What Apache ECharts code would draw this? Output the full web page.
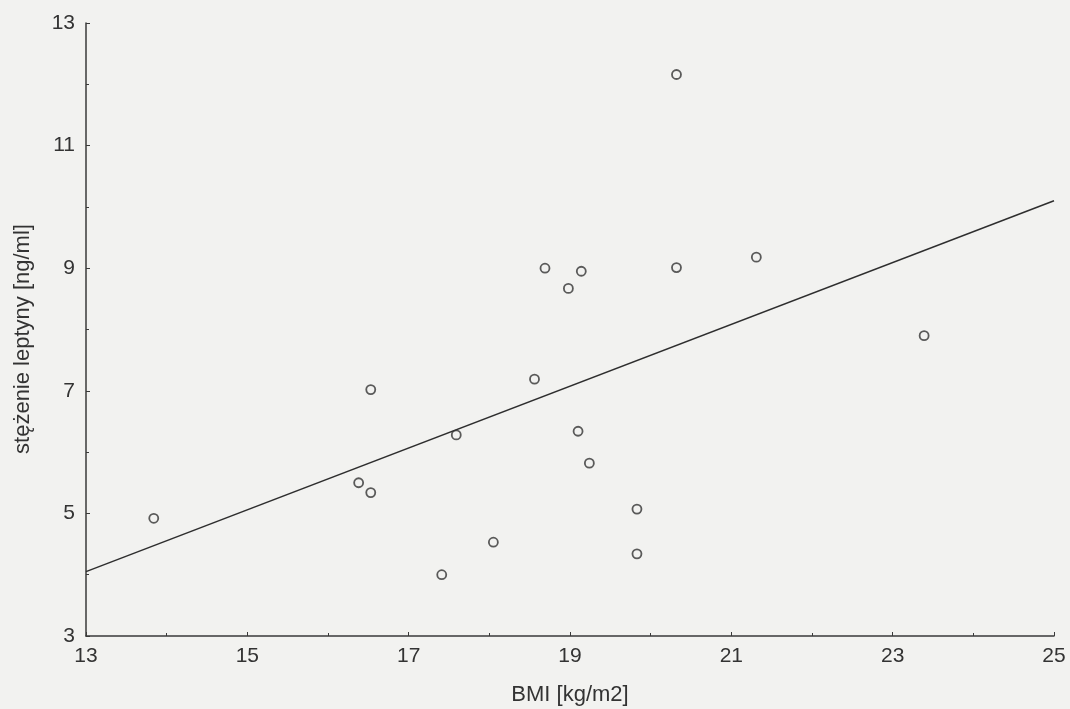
<!DOCTYPE html>
<html>
<head>
<meta charset="utf-8">
<script src="https://cdn.jsdelivr.net/npm/echarts@6/dist/echarts.min.js"></script>
<style>
html,body{margin:0;padding:0;background:#f2f2f0;}
#c{width:1070px;height:709px;}
</style>
</head>
<body>
<div id="c"></div>
<script>
const bmi = [13.84, 16.38, 16.53, 16.53, 17.41, 17.59, 18.05, 18.56, 18.69, 18.98, 19.14, 19.10, 19.24, 19.83, 19.83, 20.32, 20.32, 21.31, 23.39];
const leptin = [4.92, 5.50, 5.34, 7.02, 4.00, 6.28, 4.53, 7.19, 9.00, 8.67, 8.95, 6.34, 5.82, 5.07, 4.34, 12.16, 9.01, 9.18, 7.90];
const fitX = [13, 25];
const fitY = [4.05, 10.10];
const xTicks = [13, 15, 17, 19, 21, 23, 25];
const yTicks = [3, 5, 7, 9, 11, 13];
const xTitle = 'BMI [kg/m2]';
const yTitle = 'stężenie leptyny [ng/ml]';

const points = bmi.map((x, i) => [x, leptin[i]]);
const fitLine = fitX.map((x, i) => [x, fitY[i]]);
const ink = '#3a3a3a';
const font = "'Liberation Sans', Arial, sans-serif";

const chart = echarts.init(document.getElementById('c'));
chart.setOption({
  backgroundColor: '#f2f2f0',
  animation: false,
  grid: {left: 86, right: 16, top: 23, bottom: 73, containLabel: false, outerBoundsMode: 'none'},
  xAxis: {
    type: 'value', min: xTicks[0], max: xTicks[xTicks.length - 1], interval: 2,
    name: xTitle, nameLocation: 'middle', nameGap: 48,
    nameTextStyle: {fontFamily: font, fontSize: 22, color: '#333'},
    axisLine: {show: true, onZero: false, lineStyle: {color: ink, width: 1.5}},
    axisTick: {show: true, inside: true, length: 4, lineStyle: {color: ink}},
    minorTick: {show: true, splitNumber: 2, length: 3, lineStyle: {color: ink}},
    axisLabel: {fontFamily: font, fontSize: 21, color: '#333', margin: 10},
    splitLine: {show: false}
  },
  yAxis: {
    type: 'value', min: yTicks[0], max: yTicks[yTicks.length - 1], interval: 2,
    name: yTitle, nameLocation: 'middle', nameGap: 52,
    nameTextStyle: {fontFamily: font, fontSize: 22, color: '#333', padding: [0, 19, 0, 0]},
    axisLine: {show: true, onZero: false, lineStyle: {color: ink, width: 1.5}},
    axisTick: {show: true, inside: true, length: 4, lineStyle: {color: ink}},
    minorTick: {show: true, splitNumber: 2, length: 3, lineStyle: {color: ink}},
    axisLabel: {fontFamily: font, fontSize: 21, color: '#333', margin: 11},
    splitLine: {show: false}
  },
  series: [
    {
      type: 'line', data: fitLine, symbol: 'none',
      lineStyle: {color: '#2e2e2e', width: 1.5}, z: 2
    },
    {
      type: 'scatter', data: points, symbol: 'circle', symbolSize: 9,
      itemStyle: {color: 'rgba(0,0,0,0)', borderColor: '#333', borderWidth: 1.8}, z: 3
    }
  ]
});
</script>
</body>
</html>
